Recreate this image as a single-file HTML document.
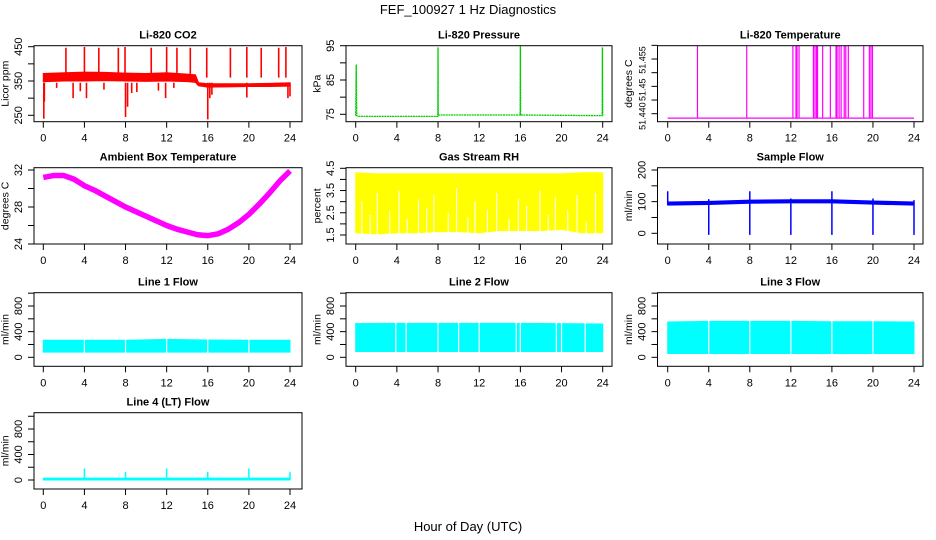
<!DOCTYPE html>
<html><head><meta charset="utf-8"><style>
html,body{margin:0;padding:0;background:#fff;}
svg{display:block;font-family:"Liberation Sans",sans-serif;}
</style></head><body>
<svg id="chart" width="936" height="540" viewBox="0 0 936 540" xmlns="http://www.w3.org/2000/svg">
<text x="468" y="14" text-anchor="middle" font-size="13">FEF_100927  1 Hz Diagnostics</text>
<text x="468" y="531" text-anchor="middle" font-size="13">Hour of Day (UTC)</text>
</svg>
<script>
// ---- data ----
const xTicks = [0,4,8,12,16,20,24];
const co2Hours = [0,2,4,6,8,10,12,14,14.8,15.1,16,18,20,22,24];
const co2Low  = [348,350,350,351,350,349,350,348,346,336,332,333,334,334,335];
const co2High = [372,374,376,375,373,372,374,370,368,345,342,342,342,343,345];
const co2SpikeHours = [2.2,4,5.4,7.3,7.95,10.5,12,13,14.3,15.9,18.2,19.8,21.2,22.9,23.6,0.05,0.1,2.9,4.2,8,8.2,8.6,11.9,16,16.2,16.4,19.8,23.8,24,1.3,3.6,5.9,9.1,11.2,12.7];
const co2SpikeValues = [447,449,447,447,449,447,449,447,447,447,447,449,447,447,449,240,290,300,300,245,275,315,300,238,300,310,302,300,305,330,320,325,318,322,330];
const presHours = [0,0.05,0.08,0.1,0.2,7.98,8,8.02,15.98,16,16.02,23.95,23.97,24];
const presValues = [74.6,89.5,80,74.6,74.4,74.4,94.5,74.8,74.8,95,74.8,74.6,94.5,74.6];
const tempBase = 51.4347;
const tempSpikeTop = 51.4558;
const tempSpikeHours = [2.9,7.7,12.2,12.5,12.6,12.8,14.2,14.35,14.5,14.6,15.1,15.85,16.4,16.5,16.7,16.9,17.2,17.35,17.6,19.1,19.65,19.8,19.95];
const ambHours = [0,1,2,3,4,5,6,7,8,9,10,11,12,13,14,15,16,17,18,19,20,21,22,23,24];
const ambValues = [31.2,31.4,31.4,31.0,30.3,29.8,29.2,28.6,28.0,27.5,27.0,26.5,26.0,25.6,25.3,25.0,24.9,25.1,25.6,26.3,27.2,28.3,29.5,30.8,31.9];
const rhHours = [0,2,4,6,8,10,12,14,16,18,20,22,24];
const rhLow  = [1.6,1.55,1.6,1.6,1.65,1.65,1.6,1.7,1.7,1.7,1.75,1.6,1.6];
const rhHigh = [4.3,4.25,4.25,4.25,4.25,4.25,4.25,4.25,4.25,4.25,4.25,4.3,4.3];
const rhGapHours = [0.6,1.4,2.1,3.3,4.2,5.0,6.1,6.9,7.6,9.0,9.8,10.9,11.6,12.8,13.7,14.9,15.8,16.6,17.9,18.7,19.4,20.6,21.5,22.4,23.3];
const rhGapTops  = [3.0,2.4,3.4,2.6,3.5,2.2,3.1,2.7,3.3,2.5,3.6,2.3,3.0,2.6,3.4,2.2,3.1,2.8,3.5,2.4,3.2,2.6,3.3,2.1,3.4];
const sfHours = [0,4,8,12,16,20,24];
const sfLevel = [95,97,101,102,102,98,95];
const sfSpikeLow = [90,-5,-5,-5,-5,-5,-5];
const sfSpikeHigh = [133,108,133,110,133,110,105];
const l1Hours = [0,4,8,12,16,20,24];
const l1Low  = [80,80,80,80,80,80,80];
const l1High = [265,265,265,280,270,265,265];
const l1Gaps = [4,8,12,16,20];
const l2Hours = [0,4,8,12,16,20,24];
const l2Low  = [90,90,90,90,90,90,90];
const l2High = [525,530,530,530,530,525,520];
const l2Gaps = [3.9,4.9,8,10,12,15.6,16,19.5,20,22.3];
const l3Hours = [0,4,8,12,16,20,24];
const l3Low  = [60,60,60,60,60,60,60];
const l3High = [550,560,560,560,555,555,550];
const l3Gaps = [4,8,12,16,20];
const l4Low = 0;
const l4High = 30;
const l4SpikeHours = [4,8,12,16,20,24];
const l4SpikeValues = [180,130,180,130,180,130];

// ---- layout ----
const NS = "http://www.w3.org/2000/svg";
const svg = document.getElementById('chart');
const cols = [{L:34,R:302,x0:43.3,x24:290},{L:346,R:612,x0:355.7,x24:602.7},{L:657.5,R:923,x0:667.7,x24:914}];
const rows = [{T:45.7,B:121.7},{T:167.7,B:244},{T:292.7,B:366.3},{T:412.7,B:489}];
function mk(tag, attrs, parent){const e=document.createElementNS(NS,tag);for(const k in attrs)e.setAttribute(k,attrs[k]);(parent||svg).appendChild(e);return e;}

function panel(c, r, title, ytitle, y1v, y1p, y2v, y2p, yTicks, yLabels, yLabelVals, name, lfs){
  const C=cols[c], R=rows[r];
  const g=mk('g',{});
  
  
  const xs = h => C.x0 + (C.x24-C.x0)*h/24;
  const ys = v => y1p + (v-y1v)*(y2p-y1p)/(y2v-y1v);
  const t=mk('text',{x:(C.L+C.R)/2,y:R.T-7,'text-anchor':'middle','font-size':11,'font-weight':'bold'},g);
  t.textContent=title;
  
  
  const yt=mk('text',{transform:`translate(${C.L-25.5},${(R.T+R.B)/2}) rotate(-90)`,'text-anchor':'middle','font-size':10.5},g);
  yt.textContent=ytitle;
  
  
  const clip=mk('clipPath',{id:'clip'+name},g);
  mk('rect',{x:C.L,y:R.T,width:C.R-C.L,height:R.B-R.T},clip);
  const plot=mk('g',{'clip-path':`url(#clip${name})`},g);
  
  
  const box=mk('rect',{x:C.L,y:R.T,width:C.R-C.L,height:R.B-R.T,fill:'none',stroke:'#000','stroke-width':1},g);
  
  
  xTicks.forEach(h=>{
    mk('line',{x1:xs(h),x2:xs(h),y1:R.B,y2:R.B+6,stroke:'#000'},g);
    const l=mk('text',{x:xs(h),y:R.B+20,'text-anchor':'middle','font-size':11},g);
    l.textContent=h;
    
    
  });
  yTicks.forEach(v=>{ mk('line',{x1:C.L-6,x2:C.L,y1:ys(v),y2:ys(v),stroke:'#000'},g); });
  yLabels.forEach((s,i)=>{
    const l=mk('text',{transform:`translate(${C.L-12},${ys(yLabelVals[i])}) rotate(-90)`,'text-anchor':'middle','font-size':lfs||11},g);
    l.textContent=s;
    
    
  });
  return {plot, xs, ys};
}
function band(p, hours, lo, hi, color, name){
  let d='M'+hours.map((h,i)=>p.xs(h)+','+p.ys(hi[i])).join(' L');
  d+=' L'+hours.slice().reverse().map((h,i)=>p.xs(h)+','+p.ys(lo[hours.length-1-i])).join(' L')+'Z';
  const e=mk('path',{d,fill:color,stroke:color,'stroke-width':1},p.plot);
  
  
}
function vline(p,h,a,b,color,w,name){
  const e=mk('line',{x1:p.xs(h),x2:p.xs(h),y1:p.ys(a),y2:p.ys(b),stroke:color,'stroke-width':w},p.plot);
  
  
}
function gapLine(p,h,R,name){
  const e=mk('line',{x1:p.xs(h),x2:p.xs(h),y1:0,y2:540,stroke:'#fff','stroke-width':1.2},p.plot);
  
  
}

// CO2
let p=panel(0,0,'Li-820 CO2','Licor ppm',450,46.7,250,115.3,[250,300,350,400,450],['250','350','450'],[250,350,450],'co2');
band(p,co2Hours,co2Low,co2High,'#ff0000','co2-band');
co2SpikeHours.forEach((h,i)=>{
  const base=co2SpikeValues[i]>360?360:345;
  vline(p,h,base,co2SpikeValues[i],'#ff0000',1.6,'co2-spike');
});
// Pressure
p=panel(1,0,'Li-820 Pressure','kPa',95,45.7,75,114.3,[75,80,85,90,95],['75','85','95'],[75,85,95],'pressure');
{const e=mk('polyline',{points:presHours.map((h,i)=>p.xs(h)+','+p.ys(presValues[i])).join(' '),fill:'none',stroke:'#00cc00','stroke-width':1.3,'stroke-dasharray':'2 0.6'},p.plot);

}
// Temperature
p=panel(2,0,'Li-820 Temperature','degrees C',51.436,113.7,51.456,45.35,[51.436,51.440,51.444,51.448,51.452,51.456],['51.440','51.45','51.455'],[51.4353,51.4430,51.4517],'li820-temp',9);
{const e=mk('line',{x1:p.xs(0),x2:p.xs(24),y1:p.ys(tempBase),y2:p.ys(tempBase),stroke:'#ff00ff','stroke-width':1.3},p.plot);

}
tempSpikeHours.forEach(h=>vline(p,h,tempBase,tempSpikeTop,'#ff00ff',1.2,'temp-spike'));
// Ambient
p=panel(0,1,'Ambient Box Temperature','degrees C',32,170,24,244,[24,26,28,30,32],['24','28','32'],[24,28,32],'ambient');
{const e=mk('polyline',{points:ambHours.map((h,i)=>p.xs(h)+','+p.ys(ambValues[i])).join(' '),fill:'none',stroke:'#ff00ff','stroke-width':5.5,'stroke-linejoin':'round'},p.plot);

}
// RH
p=panel(1,1,'Gas Stream RH','percent',4.5,168.3,1.5,235,[1.5,2,2.5,3,3.5,4,4.5],['1.5','2.5','3.5','4.5'],[1.5,2.5,3.5,4.5],'rh');
band(p,rhHours,rhLow,rhHigh,'#ffff00','rh-band');
rhGapHours.forEach((h,i)=>vline(p,h,1.4,rhGapTops[i],'#ffffff',1.1,'rh-gap'));
// Sample flow
p=panel(2,1,'Sample Flow','ml/min',200,170,0,233.3,[0,50,100,150,200],['0','100','200'],[0,100,200],'sample-flow');
band(p,sfHours,sfLevel.map(v=>v-6),sfLevel.map(v=>v+4),'#0000ff','sample-flow-band');
sfHours.forEach((h,i)=>vline(p,h,sfSpikeLow[i],sfSpikeHigh[i],'#0000ff',1.5,'sample-flow-spike'));
// Line flows
const flowTicks=[0,200,400,600,800,1000], flowLabels=['0','400','800'], flowLabelVals=[0,400,800];
p=panel(0,2,'Line 1 Flow','ml/min',0,357.3,800,306,flowTicks,flowLabels,flowLabelVals,'line1');
band(p,l1Hours,l1Low,l1High,'#00ffff','line1-band');
l1Gaps.forEach(h=>gapLine(p,h,rows[2],'line1-gap'));
p=panel(1,2,'Line 2 Flow','ml/min',0,357.3,800,306,flowTicks,flowLabels,flowLabelVals,'line2');
band(p,l2Hours,l2Low,l2High,'#00ffff','line2-band');
l2Gaps.forEach(h=>gapLine(p,h,rows[2],'line2-gap'));
p=panel(2,2,'Line 3 Flow','ml/min',0,357.3,800,306,flowTicks,flowLabels,flowLabelVals,'line3');
band(p,l3Hours,l3Low,l3High,'#00ffff','line3-band');
l3Gaps.forEach(h=>gapLine(p,h,rows[2],'line3-gap'));
p=panel(0,3,'Line 4 (LT) Flow','ml/min',0,480,800,429,flowTicks,flowLabels,flowLabelVals,'line4');
band(p,[0,24],[l4Low,l4Low],[l4High,l4High],'#00ffff','line4-band');
l4SpikeHours.forEach((h,i)=>vline(p,h,0,l4SpikeValues[i],'#00ffff',1.5,'line4-spike'));
</script>
</body></html>
